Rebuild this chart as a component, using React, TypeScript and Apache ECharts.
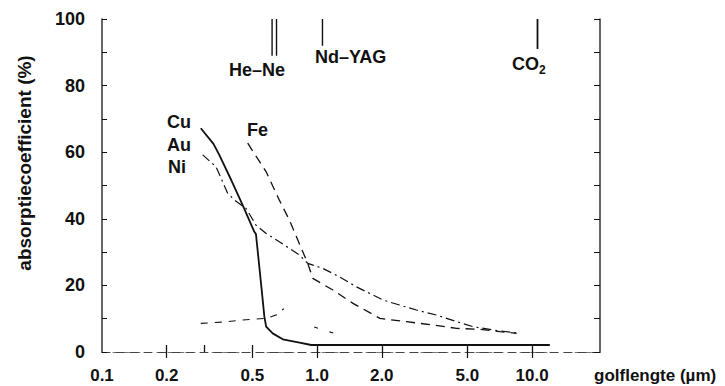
import React, { useEffect, useRef } from 'react';
import * as echarts from 'echarts';

// Axis tick values / labels
const xLabelValues = [0.1, 0.2, 0.5, 1, 2, 5, 10];
const xLabelTexts = ['0.1', '0.2', '0.5', '1.0', '2.0', '5.0', '10.0'];
const xBottomTicks = [0.2, 0.3, 0.5, 1, 2, 5, 10];
const xTopTicks = [0.2, 0.5, 1, 2, 5, 10];

// Curves: [wavelength (µm), absorption (%)]
const cuData = [
  [0.288, 67.2], [0.33, 62.5], [0.351, 59.2], [0.4, 51.5], [0.451, 44.1], [0.511, 36.1], [0.52, 35.4],
  [0.549, 20.6], [0.569, 10.6], [0.58, 7.6], [0.622, 5.6], [0.693, 3.8],
  [0.829, 2.8], [0.94, 2.1], [12.1, 2.1],
];
const niData = [
  [0.294, 59.2], [0.339, 55.6], [0.384, 47.7], [0.414, 45.6], [0.468, 43.1],
  [0.52, 38.1], [0.58, 35.6], [0.668, 33.1], [0.829, 29.1], [0.906, 26.6],
  [1.064, 25.1], [1.27, 22.6], [1.52, 19.6], [2.03, 15.6], [2.42, 14.1],
  [2.9, 12.6], [3.6, 11.1], [4.46, 9.1], [5.33, 7.6], [6.6, 6.6], [8.79, 5.6],
];
const feData = [
  [0.476, 62.7], [0.58, 54.1], [0.668, 45.6], [0.744, 39.6], [0.814, 33.6],
  [0.906, 26.6], [0.956, 22.1], [1.185, 18.6], [1.47, 14.6], [1.96, 10.1],
  [2.61, 9.1], [3.47, 8.1], [4.46, 7.1], [5.72, 6.8], [7.1, 6.1], [8.48, 5.6],
];
const lowData = [
  [0.288, 8.6], [0.37, 9.0], [0.451, 9.6], [0.58, 10.1], [0.65, 11.2], [0.7, 13.0],
];
const lowTail = [[0.97, 7.5], [1.2, 5.6]];

// Laser wavelength markers
const heNeA = [[0.618, 100], [0.618, 89]];
const heNeB = [[0.648, 100], [0.648, 89]];
const ndYag = [[1.06, 100], [1.06, 92]];
const co2 = [[10.6, 100], [10.6, 91]];

const FONT = '"Liberation Sans", Arial, sans-serif';
const INK = '#111';
const FS = 17;

function lineSeries(name: string, data: number[][], type: any, width = 1.2) {
  return {
    name,
    type: 'line',
    data,
    showSymbol: false,
    symbol: 'none',
    silent: true,
    lineStyle: { color: INK, width, type },
  };
}

function note(text: string, x: number, y: number) {
  return {
    type: 'text', x, y,
    style: { text, fontSize: FS + 1, fontWeight: 'bold', fontFamily: FONT, fill: INK, align: 'left', verticalAlign: 'middle' },
  };
}

export default function App() {
  const ref = useRef<HTMLDivElement>(null);
  useEffect(() => {
    document.body.style.margin = '0';
    const chart = echarts.init(ref.current!, null, { renderer: 'svg' });
    const labelMap: Record<string, string> = {};
    xLabelValues.forEach((v, i) => (labelMap[String(v)] = xLabelTexts[i]));
    const option: any = {
      animation: false,
      backgroundColor: '#fff',
      textStyle: { fontFamily: FONT },
      grid: { left: 102, right: 125, top: 19, bottom: 34, containLabel: false, outerBoundsMode: 'none' },
      xAxis: [
        {
          type: 'log',
          logBase: 10,
          min: 0.1,
          max: 20.7,
          position: 'bottom',
          name: 'golflengte (µm)',
          nameLocation: 'end',
          nameGap: -6,
          nameTextStyle: { fontSize: FS, fontWeight: 'bold', color: INK, fontFamily: FONT, align: 'left', verticalAlign: 'top', padding: [15, 0, 0, 0] },
          axisLine: { show: true, lineStyle: { color: '#777', width: 1, type: [5, 6] } },
          axisTick: { show: true, inside: true, length: 7, customValues: xBottomTicks, lineStyle: { color: INK, width: 1.3 } },
          axisLabel: {
            show: true,
            customValues: xLabelValues,
            margin: 15,
            fontSize: FS,
            fontWeight: 'bold',
            color: INK,
            fontFamily: FONT,
            formatter: (v: number) => {
              const key = String(Math.round(v * 1000) / 1000);
              return labelMap[key] ?? String(v);
            },
          },
          splitLine: { show: false },
          minorTick: { show: false },
        },
        {
          type: 'log',
          logBase: 10,
          min: 0.1,
          max: 20.7,
          position: 'top',
          axisLine: { show: true, lineStyle: { color: '#444', width: 1, type: [8, 6] } },
          axisTick: { show: true, inside: true, length: 6, customValues: xTopTicks, lineStyle: { color: INK, width: 1.2 } },
          axisLabel: { show: false },
          splitLine: { show: false },
        },
      ],
      yAxis: [
        {
          type: 'value',
          min: 0,
          max: 100,
          interval: 10,
          position: 'left',
          axisLine: { show: true, lineStyle: { color: '#333', width: 1.5 } },
          axisTick: { show: true, inside: true, length: 5, lineStyle: { color: INK, width: 1 } },
          axisLabel: {
            margin: 17,
            fontSize: FS + 1,
            fontWeight: 'bold',
            color: INK,
            fontFamily: FONT,
            formatter: (v: number) => (v % 20 === 0 ? String(v) : ''),
          },
          splitLine: { show: false },
        },
        {
          type: 'value',
          min: 0,
          max: 100,
          interval: 10,
          position: 'right',
          axisLine: { show: true, lineStyle: { color: '#333', width: 1.5 } },
          axisTick: { show: true, inside: true, length: 6, lineStyle: { color: INK, width: 1 } },
          axisLabel: { show: false },
          splitLine: { show: false },
        },
      ],
      series: [
        lineSeries('Cu', cuData, 'solid', 1.8),
        lineSeries('Ni', niData, [9, 4, 2, 4], 1.2),
        lineSeries('Fe', feData, [9, 6], 1.3),
        lineSeries('low', lowData, [7, 7], 1.1),
        lineSeries('lowTail', lowTail, [4, 12], 1.1),
        lineSeries('He-Ne a', heNeA, 'solid', 1.4),
        lineSeries('He-Ne b', heNeB, 'solid', 1.4),
        lineSeries('Nd-YAG', ndYag, 'solid', 1.4),
        lineSeries('CO2', co2, 'solid', 1.8),
      ],
      graphic: [
        {
          type: 'text', x: 24, y: 163, rotation: Math.PI / 2,
          style: { text: 'absorptiecoefficient (%)', fontSize: 19, fontWeight: 'bold', fontFamily: FONT, fill: INK, align: 'center', verticalAlign: 'middle' },
        },
        note('He–Ne', 229, 70),
        note('Nd–YAG', 315, 57),
        {
          type: 'text', x: 512, y: 64,
          style: {
            text: '{n|CO}{s|2}', fontFamily: FONT, fill: INK, align: 'left', verticalAlign: 'middle',
            rich: {
              n: { fontSize: FS + 1, fontWeight: 'bold', fontFamily: FONT, fill: INK },
              s: { fontSize: 12, fontWeight: 'bold', fontFamily: FONT, fill: INK, padding: [12, 0, 0, 0] },
            },
          },
        },
        note('Cu', 167, 122),
        note('Au', 167, 145),
        note('Ni', 168, 167),
        note('Fe', 247, 130),
      ],
    };
    chart.setOption(option);
    return () => chart.dispose();
  }, []);
  return <div ref={ref} style={{ width: 725, height: 386 }} />;
}
